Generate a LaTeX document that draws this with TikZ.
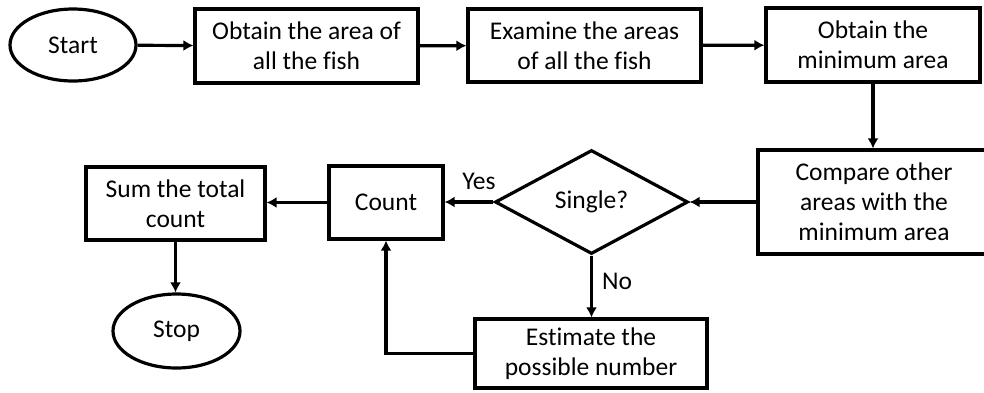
\documentclass[tikz,border=0pt]{standalone}
\usepackage{fontspec}
\setmainfont[Ligatures=CommonOff]{Carlito}
\usetikzlibrary{shapes.geometric,arrows.meta}
\begin{document}
\begin{tikzpicture}[x=1pt,y=-1pt,
  every node/.style={font=\fontsize{25.5}{30}\selectfont, inner sep=0pt, align=center},
  boxnode/.style={draw, line width=3.2pt, rectangle},
  termnode/.style={draw, line width=3.2pt, ellipse},
  decnode/.style={draw, line width=3.2pt, diamond},
  conn/.style={line width=3.2pt, -{Latex[length=10pt,width=11pt]}},
  lbl/.style={font=\fontsize{25.5}{30}\selectfont}]
\path[use as bounding box] (0,0) rectangle (984,392);
\clip (0,0) rectangle (984,392);
\node[termnode, minimum width=126pt, minimum height=72pt] (start) at (73,45) {Start};
\node[boxnode, minimum width=223pt, minimum height=74pt] (b1) at (306.5,46) {Obtain the area of\\all the fish};
\node[boxnode, minimum width=233pt, minimum height=73pt] (b2) at (584.5,45.5) {Examine the areas\\of all the fish};
\node[boxnode, minimum width=214pt, minimum height=74pt] (b3) at (873,45) {Obtain the\\minimum area};
\node[boxnode, minimum width=232pt, minimum height=104pt] (cmp) at (874,202) {Compare other\\areas with the\\minimum area};
\node[decnode, minimum width=193pt, minimum height=104pt] (dia) at (591.5,202) {Single?};
\node[boxnode, minimum width=114pt, minimum height=73pt] (count) at (386,202.5) {Count};
\node[boxnode, minimum width=179pt, minimum height=73pt] (sum) at (175.5,203.5) {Sum the total\\count};
\node[termnode, minimum width=127pt, minimum height=74pt] (stop) at (176.5,331) {Stop};
\node[boxnode, minimum width=232pt, minimum height=69pt] (est) at (591,353.5) {Estimate the\\possible number};
\node[lbl] (yes) at (479,181) {Yes};
\node[lbl] (no) at (617,281) {No};
\draw[conn] (start) -- (b1);
\draw[conn] (b1) -- (b2);
\draw[conn] (b2) -- (b3);
\draw[conn] (b3.south) -- (b3.south |- cmp.north);
\draw[conn] (cmp.west) -- (dia.east);
\draw[conn] (dia.west) -- (dia.west -| count.east);
\draw[conn] (count.west) -- (count.west -| sum.east);
\draw[conn] (sum.south) -- (sum.south |- stop.north);
\draw[conn] (dia.south) -- (dia.south |- est.north);
\draw[conn] (est.west) -| (count.south);
\end{tikzpicture}
\end{document}
